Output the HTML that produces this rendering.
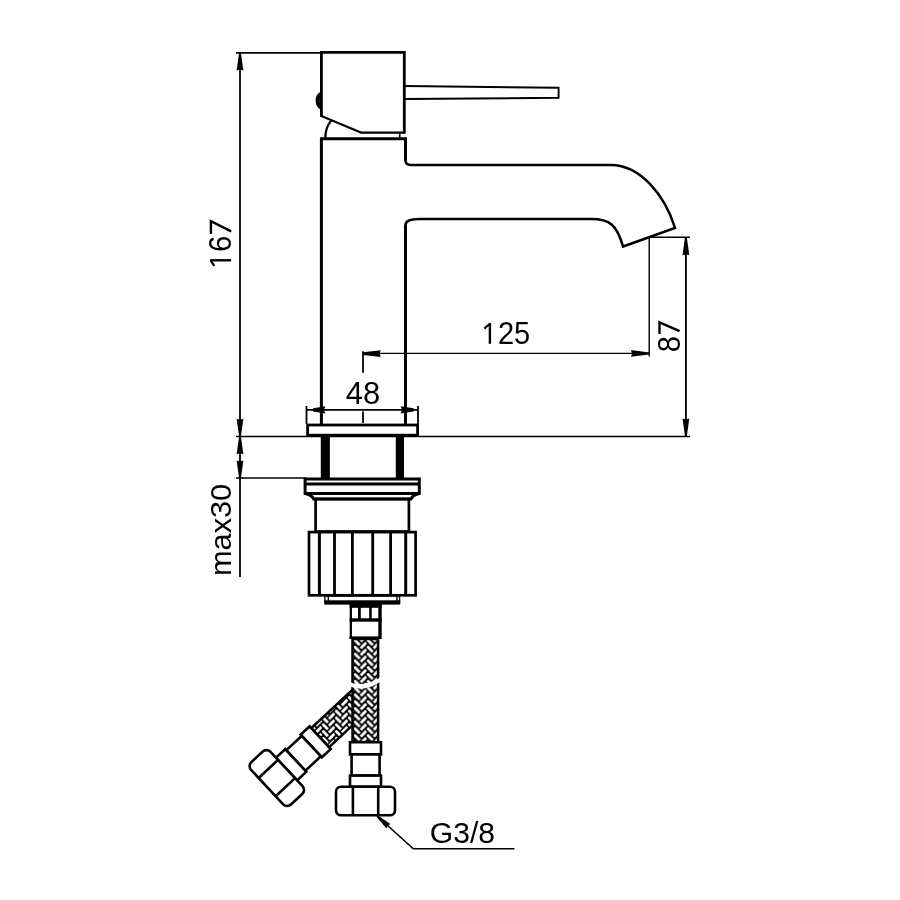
<!DOCTYPE html>
<html><head><meta charset="utf-8">
<style>
html,body{margin:0;padding:0;background:#fff;}
svg{display:block;}
text{font-family:"Liberation Sans",sans-serif;fill:#000;}
</style></head>
<body>
<svg width="900" height="900" viewBox="0 0 900 900">
<defs>
<pattern id="braid" x="353.7" y="639" width="13" height="6.8" patternUnits="userSpaceOnUse">
<rect width="13" height="6.8" fill="#000"/>
<path d="M0.5,0.5 L6,6 M7,2.4 L12.5,-3.1 M7,9.2 L12.5,3.7" stroke="#fff" stroke-width="2.8" fill="none"/>
</pattern>
<pattern id="braid2" width="13" height="6.8" patternUnits="userSpaceOnUse" patternTransform="rotate(-47 365.5 720)">
<rect width="13" height="6.8" fill="#000"/>
<path d="M0.5,0.5 L6,6 M7,2.4 L12.5,-3.1 M7,9.2 L12.5,3.7" stroke="#fff" stroke-width="2.8" fill="none"/>
</pattern>
</defs>
<rect width="900" height="900" fill="#fff"/>

<!-- ===== dimension lines (thin) ===== -->
<g stroke="#000" stroke-width="1.4" fill="none">
  <!-- 167 -->
  <line x1="240" y1="53" x2="240" y2="577" stroke-width="1.8"/>
  <line x1="236" y1="52.9" x2="322" y2="52.9" stroke-width="1.8"/>
  <!-- counter surface -->
  <line x1="236" y1="436.5" x2="690" y2="436.5" stroke-width="1.6"/>
  <!-- max30 ext -->
  <line x1="236" y1="478" x2="306" y2="478" stroke-width="1.6"/>
  <!-- 87 -->
  <line x1="685.9" y1="237" x2="685.9" y2="436" stroke-width="1.9"/>
  <line x1="649" y1="237.2" x2="690" y2="237.2"/>
  <line x1="649.2" y1="237" x2="649.2" y2="356.5"/>
  <!-- 125 -->
  <line x1="363" y1="353.4" x2="649" y2="353.4"/>
  <!-- center tick -->
  <line x1="363" y1="351.3" x2="363" y2="372.7" stroke-width="1.8"/>
  <line x1="363" y1="411.5" x2="363" y2="423" stroke-width="1.8"/>
  <!-- 48 -->
  <line x1="306.5" y1="409.9" x2="418" y2="409.9" stroke-width="1.9"/>
  <line x1="306.5" y1="406" x2="306.5" y2="424" stroke-width="1.8"/>
  <line x1="418" y1="406" x2="418" y2="424" stroke-width="1.8"/>
  <!-- leader G3/8 -->
  <polyline points="377,816 413.3,848.8 514.4,848.8" stroke-width="1.6"/>
</g>
<!-- arrows -->
<g fill="#000" stroke="none">
  <path d="M239.10,53.00 L236.60,70.50 L240.00,69.50 L243.40,70.50 L240.90,53.00 Z"/>
  <path d="M240.90,436.30 L243.40,418.80 L240.00,419.80 L236.60,418.80 L239.10,436.30 Z"/>
  <path d="M239.10,436.70 L236.60,454.20 L240.00,453.20 L243.40,454.20 L240.90,436.70 Z"/>
  <path d="M240.90,478.00 L243.40,460.50 L240.00,461.50 L236.60,460.50 L239.10,478.00 Z"/>
  <path d="M685.00,237.20 L682.50,255.20 L685.90,254.20 L689.30,255.20 L686.80,237.20 Z"/>
  <path d="M686.80,436.50 L689.30,418.50 L685.90,419.50 L682.50,418.50 L685.00,436.50 Z"/>
  <path d="M363.20,355.00 L380.70,356.90 L379.70,353.60 L380.70,350.30 L363.20,352.20 Z"/>
  <path d="M649.00,352.40 L631.00,350.10 L632.00,353.40 L631.00,356.70 L649.00,354.40 Z"/>
  <path d="M313.00,411.50 L325.50,413.60 L323.70,409.90 L325.50,406.20 L313.00,408.30 Z"/>
  <path d="M413.70,408.30 L400.50,406.20 L402.30,409.90 L400.50,413.60 L413.70,411.50 Z"/>
  <path d="M376.63,817.04 L386.44,828.57 L387.70,825.67 L390.45,824.11 L377.97,815.56 Z"/>
</g>

<!-- ===== faucet outline ===== -->
<g stroke="#000" stroke-width="2.6" fill="none" stroke-linejoin="miter">
  <!-- handle -->
  <path d="M321.4,117 V52.4 H404.3 V133.8" stroke-width="2.8"/>
  <path d="M404.3,132.7 H361.5 L321.4,116" stroke-width="2.2" stroke-linejoin="round"/>
  <path d="M321.4,92 C314.5,95 314.5,106 321.4,109.5 C318.5,106 318.5,95 321.4,92 Z" fill="#000" stroke-width="1.2"/>
  <path d="M404.5,86 L558.6,87.8 V97.8 L404.5,99" stroke-width="1.9"/>
  <path d="M331.3,120.5 Q325.5,127 325.3,138" stroke-width="2.2"/>
  <line x1="399.7" y1="132" x2="399.7" y2="139" stroke-width="1.6"/>
  <!-- body + spout -->
  <path d="M321.4,424 V138.8 H405.5 V160.5" stroke-width="3"/>
  <path d="M405.5,225 V424" stroke-width="3"/>
  <path d="M405.5,159 V160.5 Q405.5,164.9 411,164.9 H611 C640,164.9 665,195 675,228 L623,246.5 C617,225 610,219 591,219 H420 Q405.5,219 405.5,225 V227" stroke-width="2.5"/>
  <!-- escutcheon plate -->
  <rect x="307.6" y="425" width="110" height="10.2" stroke-width="2.8"/>
</g>

<!-- shank bars -->
<rect x="320.8" y="436" width="9.1" height="42" fill="#000"/>
<rect x="395.8" y="436" width="8.2" height="42" fill="#000"/>

<!-- nut flange & cylinder & knurl -->
<g stroke="#000" stroke-width="3" fill="none">
  <path d="M305.1,479 H419.3 V493.4 Q413,494.5 411,499 H313.7 Q311.4,494.5 305.1,493.4 Z"/>
  <line x1="305.1" y1="484" x2="419.3" y2="484"/>
  <line x1="305.1" y1="493.4" x2="419.3" y2="493.4"/>
  <rect x="315.6" y="499" width="93.3" height="32.5" stroke-width="2.7"/>
  <rect x="309" y="532.1" width="106.6" height="63.2" stroke-width="2.7"/>
  <line x1="319.4" y1="532" x2="319.4" y2="595"/>
  <line x1="334.5" y1="532" x2="334.5" y2="595" stroke-width="2.8"/>
  <line x1="352.4" y1="532" x2="352.4" y2="595" stroke-width="2.8"/>
  <line x1="372.7" y1="532" x2="372.7" y2="595" stroke-width="2.8"/>
  <line x1="390.6" y1="532" x2="390.6" y2="595" stroke-width="2.8"/>
  <line x1="405.7" y1="532" x2="405.7" y2="595"/>
</g>
<!-- ring -->
<g stroke="#000" fill="none">
  <rect x="324.9" y="596" width="74.7" height="6.5" stroke-width="1.3"/>
  <path d="M328.3,596 V601 M397,596 V601" stroke-width="1.4"/>
  <rect x="324.3" y="600.3" width="75.9" height="4.3" fill="#000" stroke="none"/>
</g>
<!-- fitting -->
<g fill="#000">
  <rect x="349.7" y="604" width="32" height="3.8"/>
  <rect x="349.7" y="604" width="2.3" height="35"/>
  <rect x="378.3" y="604" width="3.4" height="35"/>
  <rect x="358" y="604" width="2.8" height="16"/>
  <rect x="369.2" y="604" width="2.5" height="16"/>
  <rect x="349.7" y="618.3" width="32" height="3.4"/>
  <rect x="349.4" y="636.4" width="31.2" height="2.5"/>
</g>

<!-- ===== diagonal hose assembly ===== -->
<g transform="translate(276.8,778.1) rotate(47) translate(-365.5,-801.5)">
  <rect x="352.5" y="681.5" width="26" height="60.7" fill="url(#braid2)" stroke="#000" stroke-width="2.5"/>
  <g stroke="#000" stroke-width="2.6" fill="#fff">
    <rect x="350" y="742.2" width="31" height="12.2"/>
    <rect x="351.6" y="754.4" width="28" height="21.2"/>
    <rect x="350" y="775.6" width="31" height="12.6"/>
    <rect x="336.5" y="788.2" width="58" height="26.5" rx="5.5"/>
    <line x1="353" y1="788.2" x2="353" y2="814.7"/>
    <line x1="378" y1="788.2" x2="378" y2="814.7"/>
  </g>
</g>

<!-- ===== vertical hose assembly ===== -->
<rect x="352.5" y="639" width="25.6" height="103.2" fill="url(#braid)" stroke="#000" stroke-width="2.5"/>
<!-- break mark -->
<path d="M349,682 Q363,688 381,677 L381,681.5 Q363,693 349,686 Z" fill="#fff" stroke="none"/>
<g stroke="#000" stroke-width="2.6" fill="#fff">
  <rect x="350" y="742.2" width="31" height="12.2"/>
  <rect x="351.6" y="754.4" width="28" height="21.2"/>
  <rect x="350" y="775.6" width="31" height="11.1"/>
  <rect x="336" y="786.7" width="59" height="28.5" rx="5"/>
  <line x1="352.9" y1="786.7" x2="352.9" y2="815.2"/>
  <line x1="378.2" y1="786.7" x2="378.2" y2="815.2"/>
</g>

<!-- ===== text ===== -->
<g style="font-family:'Liberation Sans',sans-serif;opacity:0.999">
<text transform="translate(481.8,343.9) scale(0.936,1)" font-size="31"><tspan style="fill:none;stroke:none">1</tspan>25</text>
<text transform="translate(345.7,403.7) scale(0.967,1)" font-size="32">48</text>
<text transform="translate(429.8,843) scale(1.01,1)" font-size="29.8">G3/8</text>
<text transform="translate(231,268.3) rotate(-90) scale(0.956,1)" font-size="30.8"><tspan style="fill:none;stroke:none">1</tspan>6<tspan style="fill:none;stroke:none">7</tspan></text>
<text transform="translate(680,352.2) rotate(-90) scale(0.914,1)" font-size="32">8<tspan style="fill:none;stroke:none">7</tspan></text>
<text transform="translate(230.6,576) rotate(-90) scale(1.027,1)" font-size="29.9">max30</text>
</g>
<g stroke="#000" fill="none">
<path d="M489.9,323.2 V343.8" stroke-width="2.4"/>
<path d="M484.4,328.6 Q487.5,325.5 490.6,323.4" stroke-width="2.2"/>
<path d="M210.2,260.3 H231.1" stroke-width="2.4"/>
<path d="M210.7,260.3 Q212.3,263.2 214.3,265.8" stroke-width="2.2"/>
<path d="M659.5,334 V322.4 L679.6,331.2" stroke-width="2.4" stroke-linejoin="miter"/>
<path d="M210.9,233.9 V221.2 L231.2,231.4" stroke-width="2.4" stroke-linejoin="miter"/>
</g>
</svg>
</body></html>
